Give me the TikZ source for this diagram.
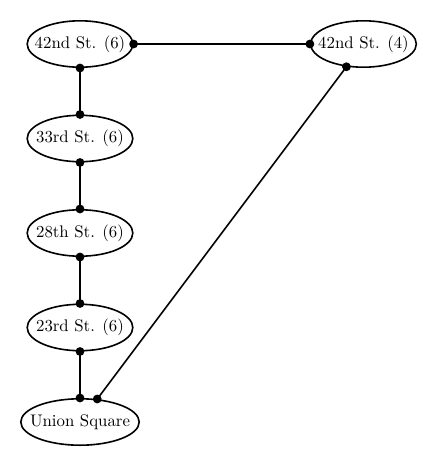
\documentclass[tikz,border=0pt]{standalone}
\usetikzlibrary{shapes.geometric}
\tikzset{
  stn/.style={draw, ellipse, line width=1pt, inner sep=0pt, minimum height=29pt, font=\fontsize{10.5}{12.5}\selectfont},
  w6/.style={minimum width=66pt},
  wu/.style={minimum width=74pt},
  dot/.style={circle, fill=black, inner sep=0pt, minimum size=5.5pt},
  link/.style={line width=1pt}
}
\newcommand{\stxt}[1]{\makebox[0pt]{#1}}
\begin{document}
\begin{tikzpicture}[x=0.625pt,y=-0.625pt]
\useasboundingbox (0,0) rectangle (437,468);
\node[stn,w6] (a) at (80,44) {\stxt{42nd St. (6)}};
\node[stn,w6] (b) at (363.5,44) {\stxt{42nd St. (4)}};
\node[stn,w6] (c) at (80,138.5) {\stxt{33rd St. (6)}};
\node[stn,w6] (d) at (80,233) {\stxt{28th St. (6)}};
\node[stn,w6] (e) at (80,327.5) {\stxt{23rd St. (6)}};
\node[stn,wu] (u) at (80,422) {\stxt{Union Square}};
\draw[link] (a) -- node[dot,pos=0]{} node[dot,pos=1]{} (b);
\draw[link] (a) -- node[dot,pos=0]{} node[dot,pos=1]{} (c);
\draw[link] (c) -- node[dot,pos=0]{} node[dot,pos=1]{} (d);
\draw[link] (d) -- node[dot,pos=0]{} node[dot,pos=1]{} (e);
\draw[link] (e) -- node[dot,pos=0]{} node[dot,pos=1]{} (u);
\draw[link] (b) -- node[dot,pos=0]{} node[dot,pos=1]{} (u);
\end{tikzpicture}
\end{document}
